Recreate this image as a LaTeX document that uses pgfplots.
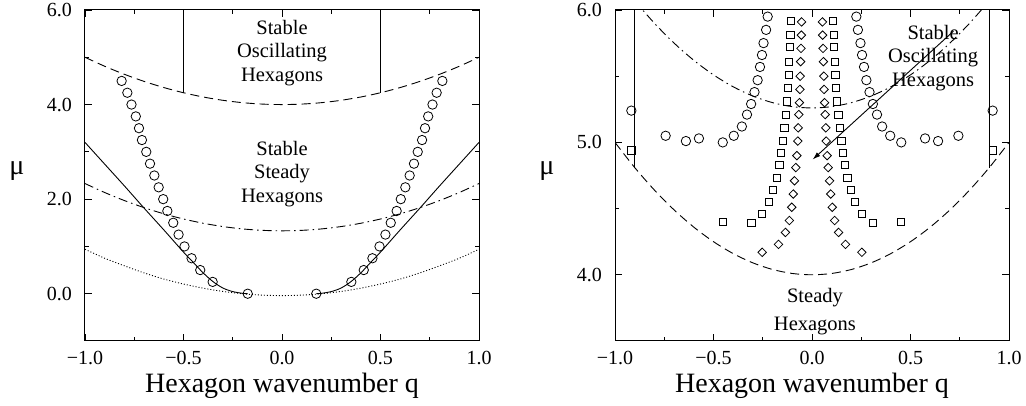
\documentclass[border=0pt]{standalone}
\usepackage{fontspec}
\setmainfont{Liberation Serif}
\usepackage{pgfplots}
\pgfplotsset{compat=1.18}
\usetikzlibrary{arrows.meta}

\tikzset{panel/.style={font=\fontsize{20.5}{23.5}\selectfont, align=center}}

\pgfplotsset{
  gp/.style={
    scale only axis, width=394pt, height=331pt,
    xmin=-1, xmax=1,
    xtick={-1,-0.5,0,0.5,1},
    xticklabels={−1.0,−0.5,0.0,0.5,1.0},
    minor x tick num=1,
    minor y tick num=1,
    tick align=inside,
    major tick length=7pt, minor tick length=4pt,
    axis line style={line width=1pt},
    tick style={black, line width=0.8pt},
    tick label style={font=\fontsize{20}{24}\selectfont},
    xticklabel style={anchor=base, yshift=-24pt},
    yticklabel style={anchor=east, inner sep=0pt, xshift=-13pt},
    label style={font=\fontsize{28}{30}\selectfont},
    xlabel={Hexagon wavenumber q},
    xlabel style={at={(axis description cs:0.5,0)}, anchor=base, yshift=-52pt},
    ylabel={μ},
    ylabel style={rotate=-90, at={(axis description cs:-0.1726,0.514)}, anchor=center},
    cycle list={{black, solid, mark=none}},
    every axis plot/.append style={black, line width=0.9pt},
  },
  dashedgp/.style={dash pattern=on 9pt off 5pt},
  dashdotgp/.style={dash pattern=on 9pt off 4pt on 1.5pt off 4pt},
  dottedgp/.style={dash pattern=on 1pt off 2pt},
  circ/.style={only marks, mark=o, mark size=4.7pt, mark options={line width=0.8pt}},
  sq/.style={only marks, mark=square, mark size=3.6pt, mark options={line width=0.8pt}},
  dia/.style={only marks, mark=square, mark size=3pt, mark options={rotate=45, line width=0.8pt}},
}

\begin{document}
\begin{tikzpicture}
\useasboundingbox[fill=white] (0,0) rectangle (1026pt,406pt);

% ---------------- left panel ----------------
\begin{axis}[gp, at={(85pt,65pt)}, anchor=south west,
    ymin=-1, ymax=6, ytick={0,2,4,6},
    yticklabels={0.0,2.0,4.0,6.0}]
  % dashed boundary
  \addplot[dashedgp, smooth] coordinates {
    (-1,5.0) (-0.9,4.81) (-0.8,4.64) (-0.7,4.49) (-0.6,4.36) (-0.5,4.25)
    (-0.4,4.16) (-0.3,4.09) (-0.2,4.04) (-0.1,4.01) (0,4.0)
    (0.1,4.01) (0.2,4.04) (0.3,4.09) (0.4,4.16) (0.5,4.25)
    (0.6,4.36) (0.7,4.49) (0.8,4.64) (0.9,4.81) (1,5.0)};
  % dash-dotted
  \addplot[dashdotgp, smooth] coordinates {
    (-1,2.33) (-0.9,2.14) (-0.8,1.97) (-0.7,1.82) (-0.6,1.69) (-0.5,1.58)
    (-0.4,1.49) (-0.3,1.42) (-0.2,1.37) (-0.1,1.34) (0,1.33)
    (0.1,1.34) (0.2,1.37) (0.3,1.42) (0.4,1.49) (0.5,1.58)
    (0.6,1.69) (0.7,1.82) (0.8,1.97) (0.9,2.14) (1,2.33)};
  % dotted
  \addplot[dottedgp, smooth] coordinates {
    (-1,0.94) (-0.9,0.75) (-0.8,0.59) (-0.7,0.44) (-0.6,0.31) (-0.5,0.205)
    (-0.4,0.117) (-0.3,0.048) (-0.2,-0.001) (-0.1,-0.03) (0,-0.04)
    (0.1,-0.03) (0.2,-0.001) (0.3,0.048) (0.4,0.117) (0.5,0.205)
    (0.6,0.31) (0.7,0.44) (0.8,0.59) (0.9,0.75) (1,0.94)};
  % solid boundaries
  \addplot[smooth] coordinates {
    (-1,3.2) (-0.9,2.74) (-0.8,2.28) (-0.7,1.81) (-0.6,1.35) (-0.5,0.88)
    (-0.45,0.66) (-0.40,0.44) (-0.35,0.255) (-0.30,0.12) (-0.25,0.045)
    (-0.20,0.008) (-0.174,0)};
  \addplot[smooth] coordinates {
    (1,3.2) (0.9,2.74) (0.8,2.28) (0.7,1.81) (0.6,1.35) (0.5,0.88)
    (0.45,0.66) (0.40,0.44) (0.35,0.255) (0.30,0.12) (0.25,0.045)
    (0.20,0.008) (0.174,0)};
  \addplot[black, solid, mark=none] coordinates {(-0.5,6) (-0.5,4.25)};
  \addplot[black, solid, mark=none] coordinates {(0.5,6) (0.5,4.25)};
  % circles
  \addplot[circ] coordinates {
    (-0.814,4.50) (-0.785,4.25) (-0.764,4.00) (-0.742,3.75) (-0.726,3.50)
    (-0.711,3.25) (-0.689,3.00) (-0.670,2.75) (-0.648,2.50) (-0.626,2.25)
    (-0.603,2.00) (-0.582,1.75) (-0.552,1.50) (-0.525,1.25) (-0.495,1.00)
    (-0.459,0.75) (-0.415,0.50) (-0.352,0.25) (-0.174,0.00)
    (0.814,4.50) (0.785,4.25) (0.764,4.00) (0.742,3.75) (0.726,3.50)
    (0.711,3.25) (0.689,3.00) (0.670,2.75) (0.648,2.50) (0.626,2.25)
    (0.603,2.00) (0.582,1.75) (0.552,1.50) (0.525,1.25) (0.495,1.00)
    (0.459,0.75) (0.415,0.50) (0.352,0.25) (0.174,0.00)};
  \node[panel] at (axis cs:0,5.09) {Stable\\Oscillating\\Hexagons};
  \node[panel] at (axis cs:0,2.54) {Stable\\Steady\\Hexagons};
\end{axis}

% ---------------- right panel ----------------
\begin{axis}[gp, at={(615pt,65pt)}, anchor=south west,
    ymin=3.5, ymax=6, ytick={4,5,6},
    yticklabels={4.0,5.0,6.0}]
  \addplot[dashedgp, smooth] coordinates {
    (-1,5.0) (-0.9,4.81) (-0.8,4.64) (-0.7,4.49) (-0.6,4.36) (-0.5,4.25)
    (-0.4,4.16) (-0.3,4.09) (-0.2,4.04) (-0.1,4.01) (0,4.0)
    (0.1,4.01) (0.2,4.04) (0.3,4.09) (0.4,4.16) (0.5,4.25)
    (0.6,4.36) (0.7,4.49) (0.8,4.64) (0.9,4.81) (1,5.0)};
  \addplot[dashdotgp, smooth] coordinates {
    (-0.9,6.07) (-0.8,5.90) (-0.7,5.75) (-0.6,5.62) (-0.5,5.51)
    (-0.4,5.42) (-0.3,5.35) (-0.2,5.30) (-0.1,5.27) (0,5.26)
    (0.1,5.27) (0.2,5.30) (0.3,5.35) (0.4,5.42) (0.5,5.51)
    (0.6,5.62) (0.7,5.75) (0.8,5.90) (0.9,6.07)};
  \addplot[black, solid, mark=none] coordinates {(-0.9,6) (-0.9,4.81)};
  \addplot[black, solid, mark=none] coordinates {(0.9,6) (0.9,4.81)};
  % circles
  \addplot[circ] coordinates {
    (-0.917,5.24) (-0.743,5.05) (-0.640,5.01) (-0.574,5.03) (-0.453,5.00)
    (-0.397,5.05) (-0.356,5.12) (-0.330,5.21) (-0.309,5.29) (-0.292,5.38)
    (-0.276,5.47) (-0.264,5.57) (-0.254,5.66) (-0.246,5.75) (-0.233,5.85)
    (-0.225,5.95)
    (0.917,5.24) (0.743,5.05) (0.640,5.01) (0.574,5.03) (0.453,5.00)
    (0.397,5.05) (0.356,5.12) (0.330,5.21) (0.309,5.29) (0.292,5.38)
    (0.276,5.47) (0.264,5.57) (0.254,5.66) (0.246,5.75) (0.233,5.85)
    (0.225,5.95)};
  % squares
  \addplot[sq] coordinates {
    (-0.917,4.94)
    (-0.107,5.92) (-0.110,5.81) (-0.113,5.72) (-0.116,5.61) (-0.119,5.51)
    (-0.123,5.41) (-0.127,5.31) (-0.134,5.21) (-0.140,5.11) (-0.149,5.01)
    (-0.157,4.92) (-0.166,4.83) (-0.180,4.73) (-0.199,4.64) (-0.219,4.55)
    (-0.253,4.46) (-0.308,4.39) (-0.453,4.40)
    (0.917,4.94)
    (0.107,5.92) (0.110,5.81) (0.113,5.72) (0.116,5.61) (0.119,5.51)
    (0.123,5.41) (0.127,5.31) (0.134,5.21) (0.140,5.11) (0.149,5.01)
    (0.157,4.92) (0.166,4.83) (0.180,4.73) (0.199,4.64) (0.219,4.55)
    (0.253,4.46) (0.308,4.39) (0.453,4.40)};
  % diamonds
  \addplot[dia] coordinates {
    (-0.053,5.91) (-0.054,5.81) (-0.056,5.71) (-0.058,5.61) (-0.060,5.50)
    (-0.061,5.40) (-0.064,5.30) (-0.067,5.21) (-0.070,5.11) (-0.072,5.01)
    (-0.077,4.90) (-0.082,4.81) (-0.089,4.71) (-0.095,4.61) (-0.103,4.51)
    (-0.115,4.41) (-0.135,4.32) (-0.170,4.23) (-0.253,4.17)
    (0.053,5.91) (0.054,5.81) (0.056,5.71) (0.058,5.61) (0.060,5.50)
    (0.061,5.40) (0.064,5.30) (0.067,5.21) (0.070,5.11) (0.072,5.01)
    (0.077,4.90) (0.082,4.81) (0.089,4.71) (0.095,4.61) (0.103,4.51)
    (0.115,4.41) (0.135,4.32) (0.170,4.23) (0.253,4.17)};
  % arrow
  \addplot[-{Latex[length=8pt,width=5pt]}] coordinates {(0.718,5.84) (0.003,4.87)};
  \node[panel] at (axis cs:0.615,5.64) {Stable\\Oscillating\\Hexagons};
  \node[panel] at (axis cs:0.015,3.72) {Steady\\[4.8pt]Hexagons};
\end{axis}
\end{tikzpicture}
\end{document}
